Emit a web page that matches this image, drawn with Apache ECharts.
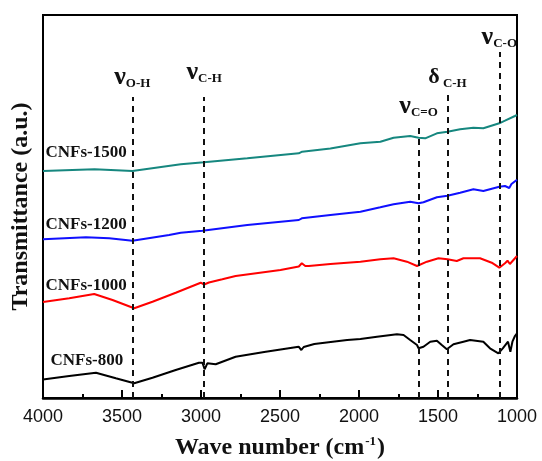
<!DOCTYPE html>
<html>
<head>
<meta charset="utf-8">
<script src="https://cdn.jsdelivr.net/npm/echarts@6/dist/echarts.min.js"></script>
<style>
  html, body { margin: 0; padding: 0; background: #fff; }
  #chart { width: 542px; height: 461px; }
</style>
</head>
<body>
<div id="chart"></div>
<script>
// FTIR spectra of carbon nanofibres carbonised at different temperatures.
// Transmittance is in arbitrary units (curves are offset vertically).
const sampleNames = ['CNFs-800', 'CNFs-1000', 'CNFs-1200', 'CNFs-1500'];

const wave800 = [4000, 3992, 3834, 3665, 3539, 3423, 3307, 3160, 3013, 2991, 2977, 2960, 2907, 2865, 2781, 2600, 2382, 2365, 2350, 2283, 2075, 1991, 1886, 1760, 1718, 1676, 1633, 1623, 1592, 1549, 1507, 1476, 1444, 1402, 1339, 1297, 1213, 1171, 1118, 1090, 1079, 1057, 1042, 1029, 1013, 1000];
const trans800 = [18.5, 18.7, 22, 25.3, 19.7, 14.7, 20.3, 28, 35.3, 35.3, 28.7, 34.7, 33.7, 36.3, 41.3, 46, 51.3, 48, 51, 54, 58, 59, 61.3, 63.7, 63, 58, 53, 49.7, 51.3, 56.3, 57.3, 53, 48.7, 53.7, 56.3, 58, 56.3, 49.7, 44.7, 49.7, 51.3, 56.3, 46.3, 56.3, 62, 64.7];

const wave1000 = [4000, 3992, 3834, 3676, 3560, 3423, 3307, 3160, 3002, 2980, 2970, 2950, 2939, 2865, 2781, 2497, 2381, 2362, 2340, 2318, 2181, 1991, 1865, 1781, 1697, 1633, 1623, 1570, 1497, 1440, 1381, 1339, 1234, 1160, 1112, 1076, 1060, 1045, 1000];
const trans1000 = [96, 96.3, 99.7, 104, 98, 89.7, 96.3, 105.3, 115.3, 113.5, 114, 115.5, 115.7, 118.7, 122, 128, 131.5, 134.7, 132, 132, 134, 136.3, 138.7, 139.7, 136.3, 132, 132, 136.3, 139.7, 138.7, 137, 139.7, 139.7, 135.3, 130.3, 134.7, 137.3, 134, 142];

const wave1200 = [4000, 3728, 3581, 3434, 3202, 3128, 2991, 2707, 2381, 2362, 2181, 1991, 1865, 1781, 1676, 1623, 1592, 1507, 1440, 1360, 1276, 1213, 1112, 1076, 1049, 1035, 1000];
const trans1200 = [158.7, 160.7, 159.7, 157.3, 163, 165.3, 167.3, 173, 178, 179.7, 183, 186.3, 190.7, 193.7, 196.3, 194.7, 195.7, 200.7, 202.3, 205.3, 208.7, 207, 211.3, 212, 210, 214, 218.3];

const wave1500 = [4000, 3674, 3434, 3128, 2981, 2707, 2381, 2360, 2181, 1991, 1865, 1781, 1676, 1623, 1581, 1507, 1440, 1360, 1276, 1213, 1112, 1076, 1013, 1000];
const trans1500 = [227, 228.7, 227, 233.7, 235.7, 239.7, 244.7, 246.3, 249.5, 254.7, 256.3, 260.3, 262, 260.3, 259.7, 264.7, 266.3, 268.7, 270.3, 269.7, 274.7, 277.3, 282, 283];

// Assigned absorption bands (cm-1)
const bandWave = [3435, 2980, 1623, 1440, 1112];
const bandLabel = ['{g|ν}{s|O-H}', '{g|ν}{s|C-H}', '{g|ν}{s|C=O}', '{d|δ}{s| C-H}', '{g|ν}{s|C-O}'];

// X axis ticks
const tickMin = 1000, tickMax = 4000, tickStep = 500;

// ---- layout / style ----
const serif = '"Liberation Serif", "Times New Roman", "DejaVu Serif", serif';
const sans = '"Liberation Sans", Arial, sans-serif';
const lineColors = ['#000000', '#ff0000', '#1010ff', '#16877f'];
const nameOffsetY = [-19, -16, -15, -18];
const nameOffsetX = [7, 2, 2, 2];
const bandTop = [301, 301, 274, 303, 346];
const bandDist = [7, 12, 5, 5, 2];

const waves = [wave800, wave1000, wave1200, wave1500];
const trans = [trans800, trans1000, trans1200, trans1500];

const series = sampleNames.map((name, k) => ({
  name: name,
  type: 'line',
  data: waves[k].map((w, i) => [w, trans[k][i]]),
  showSymbol: false,
  symbol: 'none',
  lineStyle: { color: lineColors[k], width: 2 },
  itemStyle: { color: lineColors[k] },
  z: 3,
  markPoint: {
    symbol: 'circle',
    symbolSize: 1,
    itemStyle: { color: 'rgba(0,0,0,0)' },
    silent: true,
    data: [{
      coord: [4000, trans[k][0]],
      label: {
        show: true,
        position: 'right',
        distance: 0,
        offset: [nameOffsetX[k], nameOffsetY[k]],
        formatter: name,
        color: '#111',
        fontFamily: serif,
        fontWeight: 'bold',
        fontSize: 17
      }
    }]
  }
}));

// Dashed guide lines at the band positions, carried by an empty series
series.push({
  type: 'line',
  data: [],
  silent: true,
  markLine: {
    symbol: 'none',
    silent: true,
    animation: false,
    lineStyle: { color: '#111', width: 2, type: [6, 5] },
    label: {
      show: true,
      position: 'end',
      color: '#111',
      rich: {
        g: { fontFamily: serif, fontWeight: 'bold', fontSize: 26, lineHeight: 26, color: '#111' },
        d: { fontFamily: serif, fontWeight: 'bold', fontSize: 22, lineHeight: 26, color: '#111' },
        s: { fontFamily: serif, fontWeight: 'bold', fontSize: 13, lineHeight: 15, verticalAlign: 'bottom', color: '#111' }
      }
    },
    data: bandWave.map((w, i) => [
      { coord: [w, 0], label: { formatter: bandLabel[i], distance: bandDist[i] } },
      { coord: [w, bandTop[i]] }
    ])
  }
});

const chart = echarts.init(document.getElementById('chart'), null, { renderer: 'canvas' });
chart.setOption({
  animation: false,
  backgroundColor: '#ffffff',
  grid: {
    left: 43, right: 25, top: 15, bottom: 63,
    outerBoundsMode: 'none',
    containLabel: false,
    show: true, borderColor: '#000', borderWidth: 2, backgroundColor: 'transparent'
  },
  xAxis: {
    type: 'value',
    inverse: true,
    min: tickMin,
    max: tickMax,
    interval: tickStep,
    name: '{t|Wave number (cm}{p|-1}{t|)}',
    nameLocation: 'middle',
    nameGap: 37,
    nameTextStyle: {
      rich: {
        t: { fontFamily: serif, fontWeight: 'bold', fontSize: 24, lineHeight: 26, color: '#111' },
        p: { fontFamily: serif, fontWeight: 'bold', fontSize: 13, lineHeight: 26, verticalAlign: 'top', padding: [0, 1, 0, 1], color: '#111' }
      }
    },
    axisLine: { show: true, onZero: false, lineStyle: { color: '#000', width: 2.5 } },
    axisTick: { show: true, inside: true, length: 8, lineStyle: { color: '#000', width: 2 } },
    minorTick: { show: true, splitNumber: 2, length: 4, lineStyle: { color: '#000', width: 2 } },
    axisLabel: {
      margin: 10,
      color: '#111',
      fontFamily: sans,
      fontSize: 18,
      formatter: v => String(v)
    },
    splitLine: { show: false }
  },
  yAxis: {
    type: 'value',
    min: 0,
    max: 383,
    name: 'Transmittance (a.u.)',
    nameLocation: 'middle',
    nameRotate: 90,
    nameGap: 10,
    nameTextStyle: { fontFamily: serif, fontWeight: 'bold', fontSize: 24, color: '#111' },
    axisLine: { show: false },
    axisTick: { show: false },
    axisLabel: { show: false },
    splitLine: { show: false }
  },
  series: series
});
</script>
</body>
</html>
